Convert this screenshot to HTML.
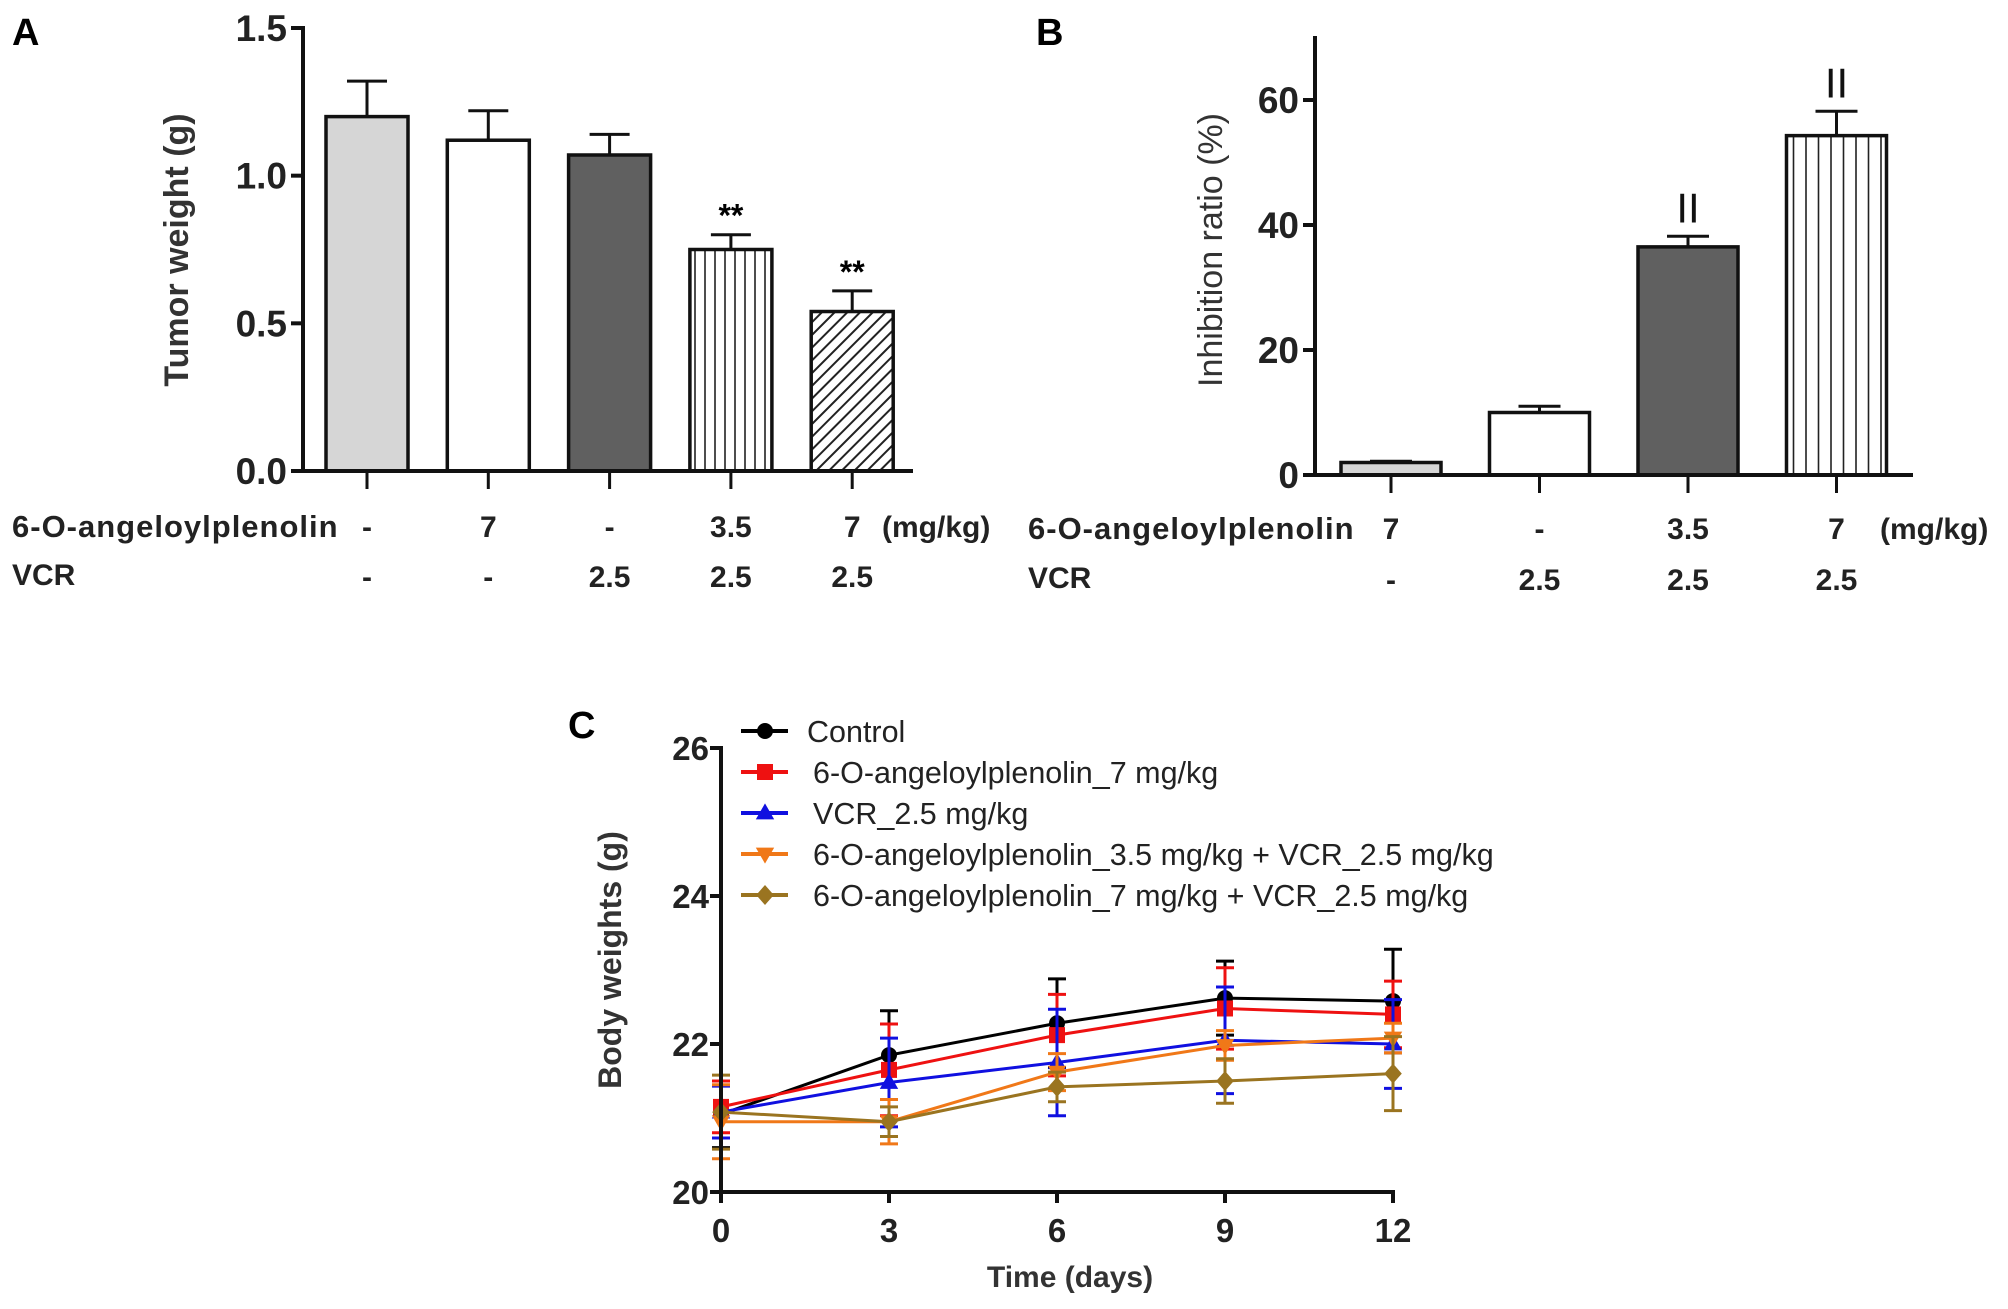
<!DOCTYPE html>
<html><head><meta charset="utf-8">
<style>
html,body{margin:0;padding:0;background:#fff;overflow:hidden;}
svg{display:block;}
text{font-family:"Liberation Sans Narrow","Liberation Sans",sans-serif;}
</style></head>
<body>
<svg id="fig" width="2008" height="1309" viewBox="0 0 2008 1309" xmlns="http://www.w3.org/2000/svg">
<defs>
<pattern id="vlines" width="10" height="10" patternUnits="userSpaceOnUse"><rect width="10" height="10" fill="#fff"/><line x1="5" y1="0" x2="5" y2="10" stroke="#222" stroke-width="1.6"/></pattern>
<pattern id="vlinesB" width="12.5" height="10" patternUnits="userSpaceOnUse"><rect width="12.5" height="10" fill="#fff"/><line x1="6" y1="0" x2="6" y2="10" stroke="#222" stroke-width="1.6"/></pattern>
<pattern id="diag" width="9" height="9" patternUnits="userSpaceOnUse" patternTransform="rotate(45)"><rect width="9" height="9" fill="#fff"/><line x1="0" y1="0" x2="0" y2="9" stroke="#222" stroke-width="4"/></pattern>
</defs>
<g id="panelA"></g>
<g id="panelB"></g>
<g id="panelC"></g>
</svg>
<script>
// ---- Panel A data
const aValues = [1.2, 1.12, 1.07, 0.75, 0.54];
const aErrors = [0.12, 0.10, 0.07, 0.05, 0.07];
const aFills = ['#d6d6d6', '#ffffff', '#606060', 'url(#vlines)', 'url(#diag)'];
const aTicks = [0, 0.5, 1.0, 1.5];
const aTickLabels = ['0.0', '0.5', '1.0', '1.5'];
const aStars = ['', '', '', '**', '**'];
const aRow1 = ['-', '7', '-', '3.5', '7'];
const aRow2 = ['-', '-', '2.5', '2.5', '2.5'];
// ---- Panel B data
const bValues = [2.0, 10.0, 36.5, 54.3];
const bErrors = [0.2, 1.0, 1.7, 3.9];
const bFills = ['#d6d6d6', '#ffffff', '#606060', 'url(#vlinesB)'];
const bTicks = [0, 20, 40, 60];
const bMarks = ['', '', 'II', 'II'];
const bRow1 = ['7', '-', '3.5', '7'];
const bRow2 = ['-', '2.5', '2.5', '2.5'];
// ---- Panel C data
const cDays = [0, 3, 6, 9, 12];
const cTicksY = [20, 22, 24, 26];
const cNames = ['Control', '6-O-angeloylplenolin_7 mg/kg', 'VCR_2.5 mg/kg', '6-O-angeloylplenolin_3.5 mg/kg + VCR_2.5 mg/kg', '6-O-angeloylplenolin_7 mg/kg + VCR_2.5 mg/kg'];
const cColors = ['#000000', '#ee1111', '#1010e0', '#f07818', '#9a7420'];
const cMarkers = ['circle', 'square', 'tri', 'tridown', 'diamond'];
const cControl = [21.05, 21.85, 22.28, 22.62, 22.58];
const cAng7 = [21.15, 21.65, 22.12, 22.48, 22.40];
const cVcr = [21.08, 21.48, 21.75, 22.05, 22.00];
const cComb35 = [20.95, 20.95, 21.62, 21.98, 22.08];
const cComb7 = [21.08, 20.95, 21.42, 21.50, 21.60];
const cErrControl = [0.45, 0.6, 0.6, 0.5, 0.7];
const cErrAng7 = [0.35, 0.62, 0.55, 0.55, 0.45];
const cErrVcr = [0.35, 0.6, 0.72, 0.72, 0.6];
const cErrComb35 = [0.5, 0.3, 0.25, 0.2, 0.2];
const cErrComb7 = [0.5, 0.2, 0.2, 0.3, 0.5];

const NS = 'http://www.w3.org/2000/svg';
function mk(parent, tag, attrs, txt) {
  const e = document.createElementNS(NS, tag);
  for (const k in attrs) e.setAttribute(k, attrs[k]);
  if (txt !== undefined) e.textContent = txt;
  parent.appendChild(e);
  return e;
}

// ===== Panel A
(function(){
  const g = document.getElementById('panelA');
  const x0 = 303, x1 = 913, yBase = 471, yTop = 28;
  const y = v => yBase - (v / 1.5) * (yBase - yTop);
  const cx = i => 367 + i * 121.3;
  const bw = 82;
  let t = mk(g, 'text', {x: 12, y: 45, 'font-size': 38, 'font-weight': 'bold', 'font-family': 'Liberation Sans, sans-serif'}, 'A');
  
  
  aValues.forEach((v, i) => {
    const top = y(v + aErrors[i]);
    let l = mk(g, 'line', {x1: cx(i), x2: cx(i), y1: y(v), y2: top, stroke: '#111', 'stroke-width': 3});
    
    
    mk(g, 'line', {x1: cx(i) - 20, x2: cx(i) + 20, y1: top, y2: top, stroke: '#111', 'stroke-width': 3});
    let r = mk(g, 'rect', {x: cx(i) - bw/2, y: y(v), width: bw, height: yBase - y(v), fill: aFills[i], stroke: '#111', 'stroke-width': 3.5});
    
    
    if (aStars[i]) {
      let s = mk(g, 'text', {x: cx(i), y: top - 8, 'text-anchor': 'middle', 'font-size': 32, 'font-weight': 'bold'}, aStars[i]);
      
      
    }
    mk(g, 'line', {x1: cx(i), x2: cx(i), y1: yBase, y2: yBase + 18, stroke: '#111', 'stroke-width': 3});
    let r1 = mk(g, 'text', {x: cx(i), y: 537, 'text-anchor': 'middle', 'font-size': 30, 'font-weight': 'bold', fill: '#222'}, aRow1[i]);
    
    
    let r2 = mk(g, 'text', {x: cx(i), y: 587, 'text-anchor': 'middle', 'font-size': 30, 'font-weight': 'bold', fill: '#222'}, aRow2[i]);
    
    
  });
  let ax = mk(g, 'line', {x1: x0, x2: x0, y1: yTop - 2, y2: yBase + 2, stroke: '#111', 'stroke-width': 4});
  
  
  let xa = mk(g, 'line', {x1: x0 - 2, x2: x1, y1: yBase, y2: yBase, stroke: '#111', 'stroke-width': 4});
  
  
  aTicks.forEach((v, i) => {
    mk(g, 'line', {x1: x0 - 12, x2: x0, y1: y(v), y2: y(v), stroke: '#111', 'stroke-width': 4});
    let tl = mk(g, 'text', {x: x0 - 16, y: y(v) + 13, 'text-anchor': 'end', 'font-size': 37, 'font-weight': 'bold', fill: '#222'}, aTickLabels[i]);
    
    
  });
  let yt = mk(g, 'text', {x: 0, y: 0, transform: 'translate(188,250) rotate(-90)', 'text-anchor': 'middle', 'font-size': 34, 'font-weight': 'bold', 'font-family': 'Liberation Sans, sans-serif', fill: '#333'}, 'Tumor weight (g)');
  
  
  let l1 = mk(g, 'text', {x: 12, y: 537, 'font-size': 31, 'font-weight': 'bold', fill: '#222', 'letter-spacing': 1}, '6-O-angeloylplenolin');
  
  
  let u1 = mk(g, 'text', {x: 882, y: 537, 'font-size': 30, 'font-weight': 'bold', fill: '#222'}, '(mg/kg)');
  
  
  let l2 = mk(g, 'text', {x: 12, y: 585, 'font-size': 30, 'font-weight': 'bold', fill: '#222'}, 'VCR');
  
  
})();

// ===== Panel B
(function(){
  const g = document.getElementById('panelB');
  const x0 = 1315, x1 = 1913, yBase = 475, yTop = 36;
  const y = v => yBase - v * (475 - 100) / 60;
  const cx = i => 1391 + i * 148.5;
  const bw = 100;
  let t = mk(g, 'text', {x: 1036, y: 45, 'font-size': 38, 'font-weight': 'bold', 'font-family': 'Liberation Sans, sans-serif'}, 'B');
  
  
  bValues.forEach((v, i) => {
    const top = y(v + bErrors[i]);
    let l = mk(g, 'line', {x1: cx(i), x2: cx(i), y1: y(v), y2: top, stroke: '#111', 'stroke-width': 3});
    
    
    mk(g, 'line', {x1: cx(i) - 21, x2: cx(i) + 21, y1: top, y2: top, stroke: '#111', 'stroke-width': 3});
    let r = mk(g, 'rect', {x: cx(i) - bw/2, y: y(v), width: bw, height: yBase - y(v), fill: bFills[i], stroke: '#111', 'stroke-width': 3.5});
    
    
    if (bMarks[i]) {
      let s = mk(g, 'text', {x: cx(i), y: top - 14, 'text-anchor': 'middle', 'font-size': 42, fill: '#111'}, bMarks[i]);
      
      
    }
    mk(g, 'line', {x1: cx(i), x2: cx(i), y1: yBase, y2: yBase + 18, stroke: '#111', 'stroke-width': 3});
    let r1 = mk(g, 'text', {x: cx(i), y: 539, 'text-anchor': 'middle', 'font-size': 30, 'font-weight': 'bold', fill: '#222'}, bRow1[i]);
    
    
    let r2 = mk(g, 'text', {x: cx(i), y: 590, 'text-anchor': 'middle', 'font-size': 30, 'font-weight': 'bold', fill: '#222'}, bRow2[i]);
    
    
  });
  let ax = mk(g, 'line', {x1: x0, x2: x0, y1: yTop, y2: yBase + 2, stroke: '#111', 'stroke-width': 4});
  
  
  let xa = mk(g, 'line', {x1: x0 - 2, x2: x1, y1: yBase, y2: yBase, stroke: '#111', 'stroke-width': 4});
  
  
  bTicks.forEach(v => {
    mk(g, 'line', {x1: x0 - 12, x2: x0, y1: y(v), y2: y(v), stroke: '#111', 'stroke-width': 4});
    let tl = mk(g, 'text', {x: x0 - 16, y: y(v) + 13, 'text-anchor': 'end', 'font-size': 37, 'font-weight': 'bold', fill: '#222'}, String(v));
    
    
  });
  let yt = mk(g, 'text', {x: 0, y: 0, transform: 'translate(1222,250) rotate(-90)', 'text-anchor': 'middle', 'font-size': 34, 'font-family': 'Liberation Sans, sans-serif', fill: '#333'}, 'Inhibition ratio (%)');
  
  
  let l1 = mk(g, 'text', {x: 1028, y: 539, 'font-size': 31, 'font-weight': 'bold', fill: '#222', 'letter-spacing': 1}, '6-O-angeloylplenolin');
  
  
  let u1 = mk(g, 'text', {x: 1880, y: 539, 'font-size': 30, 'font-weight': 'bold', fill: '#222'}, '(mg/kg)');
  
  
  let l2 = mk(g, 'text', {x: 1028, y: 588, 'font-size': 30, 'font-weight': 'bold', fill: '#222'}, 'VCR');
  
  
})();

// ===== Panel C
(function(){
  const g = document.getElementById('panelC');
  const x0 = 721, xEnd = 1393;
  const y26 = 748, y20 = 1192;
  const x = d => x0 + d * (xEnd - x0) / 12;
  const y = v => y20 - (v - 20) * (y20 - y26) / 6;
  const series = [cControl, cAng7, cVcr, cComb35, cComb7];
  const errs = [cErrControl, cErrAng7, cErrVcr, cErrComb35, cErrComb7];
  function marker(parent, kind, cxp, cyp, color, s) {
    let m;
    if (kind === 'circle') m = mk(parent, 'circle', {cx: cxp, cy: cyp, r: s, fill: color});
    else if (kind === 'square') m = mk(parent, 'rect', {x: cxp - s, y: cyp - s, width: 2*s, height: 2*s, fill: color});
    else if (kind === 'tri') m = mk(parent, 'polygon', {points: `${cxp},${cyp - s*1.2} ${cxp - s*1.15},${cyp + s*0.8} ${cxp + s*1.15},${cyp + s*0.8}`, fill: color});
    else if (kind === 'tridown') m = mk(parent, 'polygon', {points: `${cxp},${cyp + s*1.2} ${cxp - s*1.15},${cyp - s*0.8} ${cxp + s*1.15},${cyp - s*0.8}`, fill: color});
    else m = mk(parent, 'polygon', {points: `${cxp},${cyp - s*1.25} ${cxp + s*1.1},${cyp} ${cxp},${cyp + s*1.25} ${cxp - s*1.1},${cyp}`, fill: color});
    return m;
  }
  let t = mk(g, 'text', {x: 568, y: 738, 'font-size': 38, 'font-weight': 'bold', 'font-family': 'Liberation Sans, sans-serif'}, 'C');
  
  
  series.forEach((vals, si) => {
    const sg = mk(g, 'g', {});
    
    
    vals.forEach((v, i) => {
      const e = errs[si][i];
      mk(sg, 'line', {x1: x(cDays[i]), x2: x(cDays[i]), y1: y(v - e), y2: y(v + e), stroke: cColors[si], 'stroke-width': 3});
      mk(sg, 'line', {x1: x(cDays[i]) - 9, x2: x(cDays[i]) + 9, y1: y(v + e), y2: y(v + e), stroke: cColors[si], 'stroke-width': 3});
      mk(sg, 'line', {x1: x(cDays[i]) - 9, x2: x(cDays[i]) + 9, y1: y(v - e), y2: y(v - e), stroke: cColors[si], 'stroke-width': 3});
    });
    const pts = vals.map((v, i) => x(cDays[i]) + ',' + y(v)).join(' ');
    let pl = mk(sg, 'polyline', {points: pts, fill: 'none', stroke: cColors[si], 'stroke-width': 3});
    
    
    vals.forEach((v, i) => {
      let m = marker(sg, cMarkers[si], x(cDays[i]), y(v), cColors[si], 8);
      
      
    });
  });
  let ax = mk(g, 'line', {x1: x0, x2: x0, y1: y26 - 2, y2: y20 + 2, stroke: '#111', 'stroke-width': 4});
  
  
  let xa = mk(g, 'line', {x1: x0 - 2, x2: xEnd + 2, y1: y20, y2: y20, stroke: '#111', 'stroke-width': 4});
  
  
  cTicksY.forEach(v => {
    mk(g, 'line', {x1: x0 - 11, x2: x0, y1: y(v), y2: y(v), stroke: '#111', 'stroke-width': 4});
    let tl = mk(g, 'text', {x: x0 - 12, y: y(v) + 12, 'text-anchor': 'end', 'font-size': 33, 'font-weight': 'bold', fill: '#222'}, String(v));
    
    
  });
  cDays.forEach(d => {
    mk(g, 'line', {x1: x(d), x2: x(d), y1: y20, y2: y20 + 11, stroke: '#111', 'stroke-width': 4});
    let tl = mk(g, 'text', {x: x(d), y: 1242, 'text-anchor': 'middle', 'font-size': 33, 'font-weight': 'bold', fill: '#222'}, String(d));
    
    
  });
  let xt = mk(g, 'text', {x: 1070, y: 1287, 'text-anchor': 'middle', 'font-size': 30, 'font-weight': 'bold', fill: '#333'}, 'Time (days)');
  
  
  let yt = mk(g, 'text', {x: 0, y: 0, transform: 'translate(621,960) rotate(-90)', 'text-anchor': 'middle', 'font-size': 32, 'font-weight': 'bold', 'font-family': 'Liberation Sans, sans-serif', fill: '#333'}, 'Body weights (g)');
  
  
  const legY = [731, 772, 813, 854, 895];
  cNames.forEach((n, i) => {
    const lg = mk(g, 'g', {});
    
    
    mk(lg, 'line', {x1: 741, x2: 788, y1: legY[i], y2: legY[i], stroke: cColors[i], 'stroke-width': 4});
    marker(lg, cMarkers[i], 765, legY[i], cColors[i], 8);
    mk(lg, 'text', {x: i === 0 ? 807 : 813, y: legY[i] + 11, 'font-size': 30.5, fill: '#222', 'font-family': 'Liberation Sans, sans-serif'}, n);
  });
})();
</script>
</body></html>
